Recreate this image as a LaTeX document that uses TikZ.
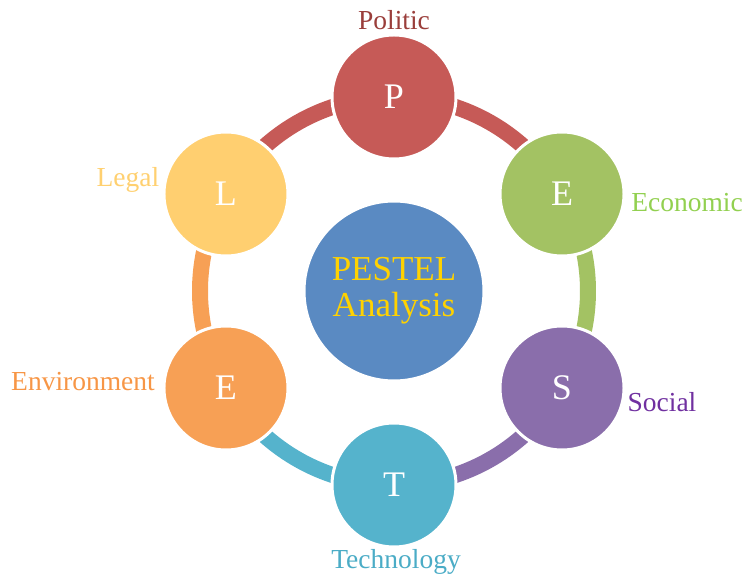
\documentclass[tikz,border=0pt]{standalone}
\usepackage{fontspec}
\setmainfont{Liberation Serif}
\definecolor{cP}{HTML}{C65A57}
\definecolor{cE}{HTML}{A3C263}
\definecolor{cS}{HTML}{8A6EAB}
\definecolor{cT}{HTML}{55B3CC}
\definecolor{cV}{HTML}{F7A055}
\definecolor{cL}{HTML}{FFCF70}
\definecolor{cC}{HTML}{5A8AC2}
\definecolor{tP}{HTML}{9A3E3B}
\definecolor{tE}{HTML}{92D050}
\definecolor{tS}{HTML}{7030A0}
\definecolor{tT}{HTML}{4BACC6}
\definecolor{tV}{HTML}{F79646}
\definecolor{tL}{HTML}{FFD070}
\definecolor{tC}{HTML}{FFD200}
\tikzset{
  ring/.style={line width=16pt},
  ball/.style={circle, draw=white, line width=3pt, minimum size=124pt, inner sep=0pt,
    text=white, font=\fontsize{36}{40}\selectfont},
  lab/.style={font=\fontsize{27.5}{30}\selectfont, inner sep=0pt}
}
\begin{document}
\begin{tikzpicture}[x=1pt,y=1pt]
\useasboundingbox (-394,-286) rectangle (348,291);
\coordinate (O) at (0,0);
\coordinate (aP) at (90:194);
\coordinate (aE) at (30:194);
\coordinate (aS) at (-30:194);
\coordinate (aT) at (-90:194);
\coordinate (aV) at (-150:194);
\coordinate (aL) at (150:194);
% ring segments
\draw[ring, cP] (aP) arc[start angle=90, end angle=30, radius=194];
\draw[ring, cE] (aE) arc[start angle=30, end angle=-30, radius=194];
\draw[ring, cS] (aS) arc[start angle=-30, end angle=-90, radius=194];
\draw[ring, cT] (aT) arc[start angle=-90, end angle=-150, radius=194];
\draw[ring, cV] (aV) arc[start angle=-150, end angle=-210, radius=194];
\draw[ring, cP] (aL) arc[start angle=150, end angle=90, radius=194];
% circles
\node[ball, fill=cC, minimum size=180pt, text=tC, align=center,
  font=\fontsize{35}{36}\selectfont] (C) at (O) {PESTEL\\Analysis};
\node[ball, fill=cP] (P) at (aP) {P};
\node[ball, fill=cE] (E) at (aE) {E};
\node[ball, fill=cS] (S) at (aS) {S};
\node[ball, fill=cT] (T) at (aT) {T};
\node[ball, fill=cV] (V) at (aV) {E};
\node[ball, fill=cL] (L) at (aL) {L};
% labels
\node[lab, text=tP] (lP) at (0,271) {Politic};
\node[lab, text=tE] (lE) at (293,88) {Economic};
\node[lab, text=tS] (lS) at (268,-111) {Social};
\node[lab, text=tT] (lT) at (2,-271) {Technology};
\node[lab, text=tV] (lV) at (-311,-91) {Environment};
\node[lab, text=tL] (lL) at (-266,111) {Legal};
\end{tikzpicture}
\end{document}
